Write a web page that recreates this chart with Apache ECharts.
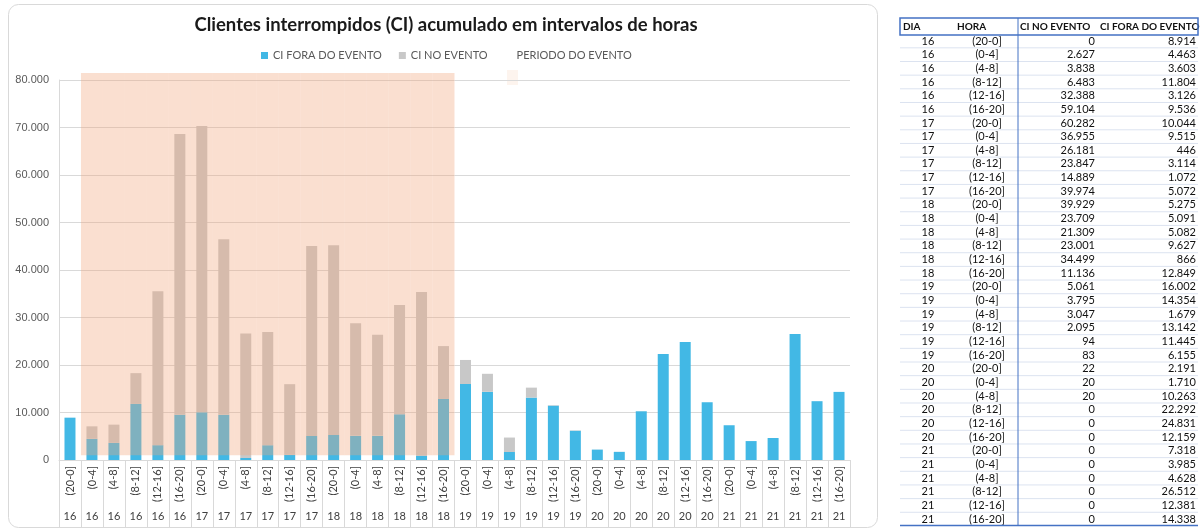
<!DOCTYPE html>
<html>
<head>
<meta charset="utf-8">
<script src="https://cdn.jsdelivr.net/npm/echarts@6/dist/echarts.min.js"></script>
<style>
html,body{margin:0;padding:0;background:#fff;}
#main{width:1204px;height:528px;}
</style>
</head>
<body>
<div id="main"></div>
<script>
// ---- data ----
const days = ['16','16','16','16','16','16','17','17','17','17','17','17','18','18','18','18','18','18','19','19','19','19','19','19','20','20','20','20','20','20','21','21','21','21','21','21'];
const hours = ['(20-0]','(0-4]','(4-8]','(8-12]','(12-16]','(16-20]','(20-0]','(0-4]','(4-8]','(8-12]','(12-16]','(16-20]','(20-0]','(0-4]','(4-8]','(8-12]','(12-16]','(16-20]','(20-0]','(0-4]','(4-8]','(8-12]','(12-16]','(16-20]','(20-0]','(0-4]','(4-8]','(8-12]','(12-16]','(16-20]','(20-0]','(0-4]','(4-8]','(8-12]','(12-16]','(16-20]'];
const ciNoEvento = [0,2627,3838,6483,32388,59104,60282,36955,26181,23847,14889,39974,39929,23709,21309,23001,34499,11136,5061,3795,3047,2095,94,83,22,20,20,0,0,0,0,0,0,0,0,0];
const ciForaEvento = [8914,4463,3603,11804,3126,9536,10044,9515,446,3114,1072,5072,5275,5091,5082,9627,866,12849,16002,14354,1679,13142,11445,6155,2191,1710,10263,22292,24831,12159,7318,3985,4628,26512,12381,14338];
// event period band (base offset + height, as drawn in the reference)
const periodoBase = ['-',1000,1000,1000,1000,1000,1000,1000,1000,1000,1000,1000,1000,1000,1000,1000,1000,1000,'-','-','-','-','-','-','-','-','-','-','-','-','-','-','-','-','-','-'];
const periodoEvento = ['-',80500,80500,80500,80500,80500,80500,80500,80500,80500,80500,80500,80500,80500,80500,80500,80500,80500,'-','-','-','-','-','-','-','-','-','-','-','-','-','-','-','-','-','-'];
const yTicks = {min:0, max:80000, interval:10000};
const tableHeader = ['DIA','HORA','CI NO EVENTO','CI FORA DO EVENTO'];

function fmt(n){ return String(n).replace(/\B(?=(\d{3})+(?!\d))/g,'.'); }

const BLUE = '#42B8E5', GREY = '#C8C8C8';
const FONT = 'Lato, "Noto Sans", sans-serif';

// ---- table graphics ----
const g = [];
g.push({type:'rect', shape:{x:8.5,y:4.5,width:869,height:523,r:10}, style:{fill:'none',stroke:'#D9D9D9',lineWidth:1}, z:0});
g.push({type:'rect', shape:{x:507,y:70,width:11,height:15}, style:{fill:'rgba(241,164,119,0.12)'}, z:0});

const tX0 = 900, tX1 = 1198, tTop = 18, hdrBot = 35, row0 = 41, pitch = 13.66;
const nRows = days.length;
const tBot = row0 + (nRows-1)*pitch + 6.5;
for (let i=0;i<nRows;i++){
  const y = row0 + i*pitch;
  if (i < nRows-1) g.push({type:'line', shape:{x1:tX0,y1:y+pitch/2,x2:tX1,y2:y+pitch/2}, style:{stroke:'#DCE3F0',lineWidth:1}});
  const cells = [[days[i],928,'center'],[hours[i],987,'center'],[fmt(ciNoEvento[i]),1095,'right'],[fmt(ciForaEvento[i]),1196,'right']];
  cells.forEach(c=>{
    g.push({type:'text', x:c[1], y:y, style:{text:c[0], font:'11px '+FONT, fill:'#111', align:c[2], textAlign:c[2], verticalAlign:'middle', textVerticalAlign:'middle'}});
  });
}
const hdrX = [[903,'left'],[957,'left'],[1020,'left'],[1100,'left']];
tableHeader.forEach((t,k)=>{
  g.push({type:'text', x:hdrX[k][0], y:(tTop+hdrBot)/2, style:{text:t, font:'bold 10px '+FONT, fill:'#111', align:'left', textAlign:'left', verticalAlign:'middle', textVerticalAlign:'middle'}});
});
g.push({type:'rect', shape:{x:tX0,y:tTop,width:tX1-tX0,height:hdrBot-tTop}, style:{fill:'none',stroke:'#4472C4',lineWidth:1.5}});
g.push({type:'line', shape:{x1:1018,y1:tTop,x2:1018,y2:tBot}, style:{stroke:'#4472C4',lineWidth:1}});
g.push({type:'line', shape:{x1:tX0,y1:tBot,x2:tX1,y2:tBot}, style:{stroke:'#4472C4',lineWidth:1.5}});

const chart = echarts.init(document.getElementById('main'), null, {renderer:'canvas'});
chart.setOption({
  animation:false,
  backgroundColor:'#fff',
  title:{text:'Clientes interrompidos (CI) acumulado em intervalos de horas', left:441, textAlign:'center', top:11,
    textStyle:{fontFamily:FONT, fontSize:18.5, fontWeight:'bold', color:'#1a1a1a'}},
  legend:{left:256, top:45, itemWidth:7, itemHeight:7, itemGap:17, icon:'rect',
    textStyle:{fontFamily:FONT, fontSize:11, color:'#595959'},
    data:[{name:'CI FORA DO EVENTO'},{name:'CI NO EVENTO'},{name:'PERIODO DO EVENTO', itemStyle:{opacity:0}}]},
  grid:{left:59, right:354, top:80, bottom:68, containLabel:false},
  xAxis:[
    {type:'category', data:hours, position:'bottom',
      axisLine:{lineStyle:{color:'#D9D9D9'}},
      axisTick:{show:true, interval:0, length:67, lineStyle:{color:'#D9D9D9'}},
      axisLabel:{interval:0, rotate:90, margin:6, fontFamily:FONT, fontSize:11, color:'#404040'}},
    {type:'category', data:days, position:'bottom',
      axisLine:{show:false}, axisTick:{show:false},
      axisLabel:{interval:0, margin:51, fontFamily:FONT, fontSize:11, color:'#404040'}},
    {type:'category', data:hours, show:false}
  ],
  yAxis:{type:'value', min:yTicks.min, max:yTicks.max, interval:yTicks.interval,
    axisLine:{show:true, lineStyle:{color:'#D9D9D9'}},
    splitLine:{lineStyle:{color:'#D9D9D9'}},
    axisLabel:{margin:10, fontFamily:'"Liberation Sans", Arial, sans-serif', fontSize:11, color:'#595959', formatter:v=>fmt(v)}},
  series:[
    {name:'CI FORA DO EVENTO', type:'bar', stack:'ci', data:ciForaEvento, barWidth:11, itemStyle:{color:BLUE}, xAxisIndex:0},
    {name:'CI NO EVENTO', type:'bar', stack:'ci', data:ciNoEvento, barWidth:11, itemStyle:{color:GREY}, xAxisIndex:0},
    {name:'periodo_base', type:'bar', stack:'p', data:periodoBase, barWidth:'100%', xAxisIndex:2, itemStyle:{color:'rgba(0,0,0,0)'}, silent:true, clip:false},
    {name:'PERIODO DO EVENTO', type:'bar', stack:'p', data:periodoEvento, barWidth:'100%', xAxisIndex:2, itemStyle:{color:'rgba(241,164,119,0.35)'}, clip:false, z:3}
  ],
  graphic:g
});
</script>
</body>
</html>
